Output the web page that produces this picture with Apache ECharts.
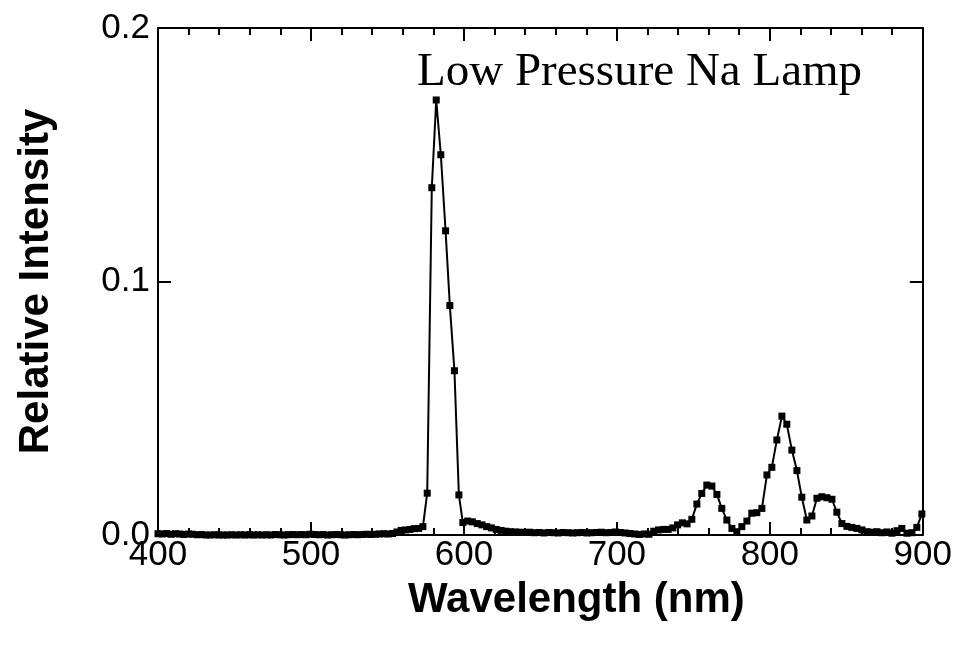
<!DOCTYPE html>
<html>
<head>
<meta charset="utf-8">
<script src="https://cdn.jsdelivr.net/npm/echarts@6/dist/echarts.min.js"></script>
<style>html,body{margin:0;padding:0;background:#fff}#c{width:955px;height:647px}</style>
</head>
<body>
<div id="c"></div>
<script>
var chartTitle = "Low Pressure Na Lamp";
var xAxisName = "Wavelength (nm)";
var yAxisName = "Relative Intensity";
var xTicks = [400, 500, 600, 700, 800, 900];
var yTicks = [0.0, 0.1, 0.2];

var wavelength = [
400.0,402.8,405.7,408.5,411.4,414.2,417.0,419.9,422.7,425.6,428.4,431.2,434.1,436.9,439.8,442.6,445.4,448.3,451.1,454.0,
456.8,459.6,462.5,465.3,468.2,471.0,473.8,476.7,479.5,482.4,485.2,488.0,490.9,493.7,496.6,499.4,502.2,505.1,507.9,510.8,
513.6,516.4,519.3,522.1,525.0,527.8,530.6,533.5,536.3,539.2,542.0,544.8,547.7,550.5,553.4,556.2,559.0,561.9,564.7,567.6,
570.4,573.2,
576.0,579.0,581.9,584.9,588.0,590.8,593.8,596.7,599.3,
602.4,605.5,608.7,611.8,614.9,618.0,621.1,624.3,627.4,630.5,633.6,636.7,639.9,643.0,646.1,649.2,652.3,655.5,658.6,661.7,
664.8,667.9,671.1,674.2,677.3,680.4,683.5,686.7,689.8,692.9,696.0,699.1,702.3,705.4,708.5,711.6,714.7,717.9,721.0,724.1,
727.2,730.3,733.5,736.6,739.7,742.8,745.9,749.0,
752.3,755.5,758.8,762.1,765.4,768.6,771.9,775.2,778.4,781.7,785.0,788.2,791.5,794.8,798.1,801.3,804.6,807.9,811.1,814.4,
817.7,820.9,824.2,827.5,830.8,834.0,837.3,840.6,843.8,847.1,850.4,853.6,856.9,860.2,863.5,866.7,870.0,873.3,876.5,879.8,
883.1,886.3,889.6,892.9,896.1,899.4
];

var intensity = [
0.0005,0.0004,0.0006,0.0003,0.0005,0.0004,0.0002,0.0004,0.0003,0.0001,0.0002,0.0000,0.0000,0.0001,0.0000,0.0000,0.0000,0.0001,0.0000,0.0001,
0.0000,0.0001,0.0000,0.0001,0.0000,0.0001,0.0000,0.0002,0.0001,0.0000,0.0001,0.0002,0.0001,0.0002,0.0001,0.0003,0.0002,0.0001,0.0002,0.0000,
0.0001,0.0002,0.0001,0.0000,0.0001,0.0002,0.0001,0.0002,0.0003,0.0002,0.0003,0.0004,0.0005,0.0004,0.0006,0.0012,0.0018,0.0020,0.0022,0.0025,
0.0026,0.0033,
0.0165,0.1370,0.1716,0.1500,0.1200,0.0905,0.0648,0.0158,0.0049,
0.0055,0.0052,0.0045,0.0040,0.0033,0.0028,0.0022,0.0018,0.0015,0.0013,0.0012,0.0011,0.0010,0.0011,0.0009,0.0010,0.0008,0.0010,0.0009,0.0008,
0.0010,0.0009,0.0008,0.0009,0.0010,0.0008,0.0009,0.0010,0.0011,0.0009,0.0010,0.0012,0.0010,0.0008,0.0006,0.0004,0.0002,0.0004,0.0003,0.0015,
0.0020,0.0022,0.0022,0.0028,0.0040,0.0048,0.0044,0.0062,
0.0122,0.0164,0.0197,0.0193,0.0160,0.0105,0.0059,0.0026,0.0013,0.0033,0.0055,0.0086,0.0088,0.0105,0.0237,0.0267,0.0375,0.0469,0.0437,0.0335,
0.0254,0.0149,0.0059,0.0075,0.0145,0.0151,0.0147,0.0141,0.0090,0.0045,0.0034,0.0030,0.0026,0.0020,0.0013,0.0011,0.0013,0.0009,0.0012,0.0007,
0.0017,0.0026,0.0007,0.0009,0.0030,0.0083
];

var seriesData = wavelength.map(function (w, i) { return [w, intensity[i]]; });

var chart = echarts.init(document.getElementById('c'), null, { renderer: 'canvas' });
var axisCommon = {
  axisLine: { show: true, onZero: false, lineStyle: { color: '#000', width: 2 } },
  splitLine: { show: false }
};
chart.setOption({
  animation: false,
  backgroundColor: '#fff',
  title: {
    text: chartTitle, left: 417, top: 49, padding: 0,
    textStyle: { fontFamily: 'Liberation Serif', fontWeight: 'normal', fontSize: 47, color: '#000' }
  },
  grid: { left: 158, right: 31, top: 28, bottom: 112, containLabel: false },
  xAxis: [
    Object.assign({}, axisCommon, {
      type: 'value', position: 'bottom', min: xTicks[0], max: xTicks[xTicks.length - 1], interval: 100,
      name: xAxisName, nameLocation: 'middle', nameGap: 44,
      nameTextStyle: { fontFamily: 'Liberation Sans', fontWeight: 'bold', fontSize: 42, color: '#000',
        padding: [0, 0, 0, 72] },
      axisTick: { show: true, inside: true, length: 13, lineStyle: { color: '#000', width: 2 } },
      minorTick: { show: true, splitNumber: 5, length: 7, lineStyle: { color: '#000', width: 2 } },
      axisLabel: { fontFamily: 'Liberation Sans', fontSize: 35, color: '#000', margin: 3 }
    }),
    Object.assign({}, axisCommon, {
      type: 'value', position: 'top', min: xTicks[0], max: xTicks[xTicks.length - 1], interval: 100,
      axisTick: { show: true, inside: true, length: 13, lineStyle: { color: '#000', width: 2 } },
      minorTick: { show: true, splitNumber: 5, length: 7, lineStyle: { color: '#000', width: 2 } },
      axisLabel: { show: false }
    })
  ],
  yAxis: [
    Object.assign({}, axisCommon, {
      type: 'value', position: 'left', min: yTicks[0], max: yTicks[yTicks.length - 1], interval: 0.1,
      name: yAxisName, nameLocation: 'middle', nameGap: 101,
      nameTextStyle: { fontFamily: 'Liberation Sans', fontWeight: 'bold', fontSize: 42, color: '#000' },
      axisTick: { show: true, inside: true, length: 13, lineStyle: { color: '#000', width: 2 } },
      axisLabel: { fontFamily: 'Liberation Sans', fontSize: 35, color: '#000', margin: 8,
        formatter: function (v) { return v.toFixed(1); } }
    }),
    Object.assign({}, axisCommon, {
      type: 'value', position: 'right', min: yTicks[0], max: yTicks[yTicks.length - 1], interval: 0.1,
      axisTick: { show: true, inside: true, length: 13, lineStyle: { color: '#000', width: 2 } },
      axisLabel: { show: false }
    })
  ],
  series: [{
    type: 'line', xAxisIndex: 0, yAxisIndex: 0, data: seriesData, clip: false,
    symbol: 'rect', symbolSize: 7, showAllSymbol: true,
    lineStyle: { color: '#000', width: 2 },
    itemStyle: { color: '#000' }
  }]
});
</script>
</body>
</html>
